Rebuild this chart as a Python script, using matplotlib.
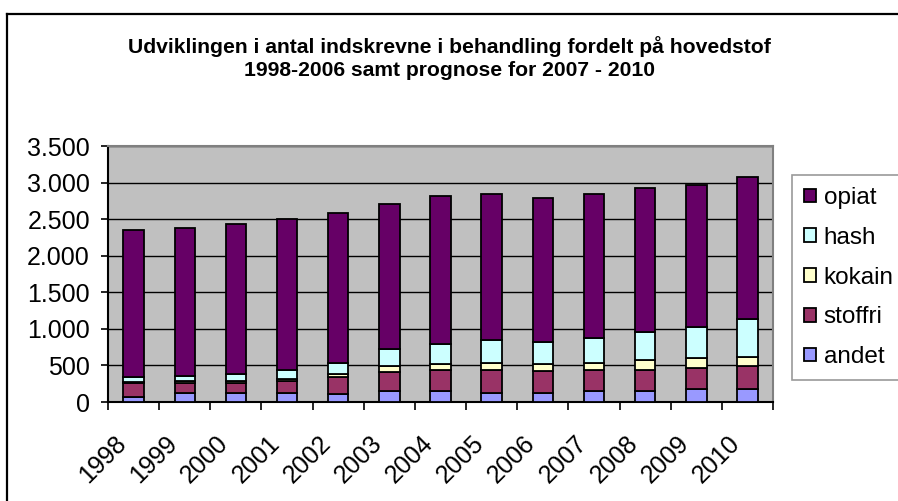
import numpy as np
import matplotlib.pyplot as plt
from matplotlib.lines import Line2D
from matplotlib.transforms import ScaledTranslation

plt.rcParams['font.family'] = ['Liberation Sans', 'DejaVu Sans']

# ==========================================================
# data
# ==========================================================
years = ["1998", "1999", "2000", "2001", "2002", "2003", "2004",
         "2005", "2006", "2007", "2008", "2009", "2010"]
andet = [68, 127, 127, 127, 104, 154, 154, 127, 127, 154, 154, 182, 182]
stoffri = [186, 127, 127, 154, 232, 255, 282, 309, 291, 282, 282, 286, 313]
kokain = [15, 32, 32, 28, 45, 77, 77, 100, 95, 100, 136, 131, 127]
hash_ = [67, 73, 100, 131, 159, 240, 282, 318, 309, 340, 382, 432, 513]
opiat = [2014, 2021, 2044, 2060, 2050, 1984, 2015, 1986, 1968, 1964, 1966, 1939, 1935]

y_ticks = [0, 500, 1000, 1500, 2000, 2500, 3000, 3500]
y_labels = ["0", "500", "1.000", "1.500", "2.000", "2.500", "3.000", "3.500"]

title = ("Udviklingen i antal indskrevne i behandling fordelt på hovedstof\n"
         "1998-2006 samt prognose for 2007 - 2010")

# ==========================================================
# figure
# ==========================================================
W, H = 898, 501
fig = plt.figure(figsize=(W / 100, H / 100), dpi=100)
ax = fig.add_axes([108 / W, 1 - 402 / H, (773 - 108) / W, (402 - 146) / H])
ax.set_facecolor('#C0C0C0')

x = np.arange(len(years))
series = [
    ("andet", andet, '#9999FF'),
    ("stoffri", stoffri, '#993366'),
    ("kokain", kokain, '#FFFFCC'),
    ("hash", hash_, '#CCFFFF'),
    ("opiat", opiat, '#660066'),
]
bottom = np.zeros(len(years))
bars = []
for name, vals, col in series:
    b = ax.bar(x, vals, 0.4, bottom=bottom, color=col, edgecolor='black',
               linewidth=1.3, label=name, zorder=3)
    bars.append(b)
    bottom += np.array(vals)

ax.set_xlim(-0.5, len(years) - 0.5)
ax.set_ylim(0, 3500)
ax.set_yticks(y_ticks)
ax.set_yticklabels(y_labels, fontsize=18)
ax.yaxis.grid(True, color='black', linewidth=1.0, zorder=1)
ax.set_axisbelow(True)

# category labels at centres, tick marks at boundaries
ax.set_xticks(x)
ax.set_xticklabels(years, fontsize=18, rotation=45, ha='right',
                   va='center', rotation_mode='anchor')
ax.set_xticks(np.arange(len(years) + 1) - 0.5, minor=True)
ax.tick_params(axis='x', which='major', length=0, pad=27)
ax.tick_params(axis='x', which='minor', length=6, width=1.2, direction='out')
ax.tick_params(axis='y', length=5, width=1.2, direction='out', pad=8)
off = ScaledTranslation(-8 / 72, 0, fig.dpi_scale_trans)
for lab in ax.get_xticklabels():
    lab.set_transform(lab.get_transform() + off)

for s in ['left', 'bottom']:
    ax.spines[s].set_color('black')
    ax.spines[s].set_linewidth(1.5)
for s in ['top', 'right']:
    ax.spines[s].set_color('#808080')
    ax.spines[s].set_linewidth(1.5)

# legend (top entry first)
leg = ax.legend([b[0] for b in bars[::-1]], [s[0] for s in series[::-1]],
                loc='upper left', bbox_to_anchor=(792 / W, 1 - 175 / H),
                bbox_transform=fig.transFigure, fontsize=17.5, frameon=True,
                fancybox=False, borderpad=0.5, labelspacing=0.73,
                handlelength=0.5, handleheight=0.5, handletextpad=0.3,
                borderaxespad=0)
leg.get_frame().set_edgecolor('#808080')
leg.get_frame().set_linewidth(1.2)

fig.text(449 / W, 1 - 58 / H, title, ha='center', va='center',
         fontsize=15.2, fontweight='bold', linespacing=1.3)

# outer chart border (left and top only visible)
fig.add_artist(Line2D([7 / W, 7 / W], [0, 1 - 14 / H], color='black',
                      linewidth=1.6, transform=fig.transFigure))
fig.add_artist(Line2D([7 / W, 1], [1 - 14 / H, 1 - 14 / H], color='black',
                      linewidth=1.6, transform=fig.transFigure))

fig.savefig("out.png", dpi=100)
